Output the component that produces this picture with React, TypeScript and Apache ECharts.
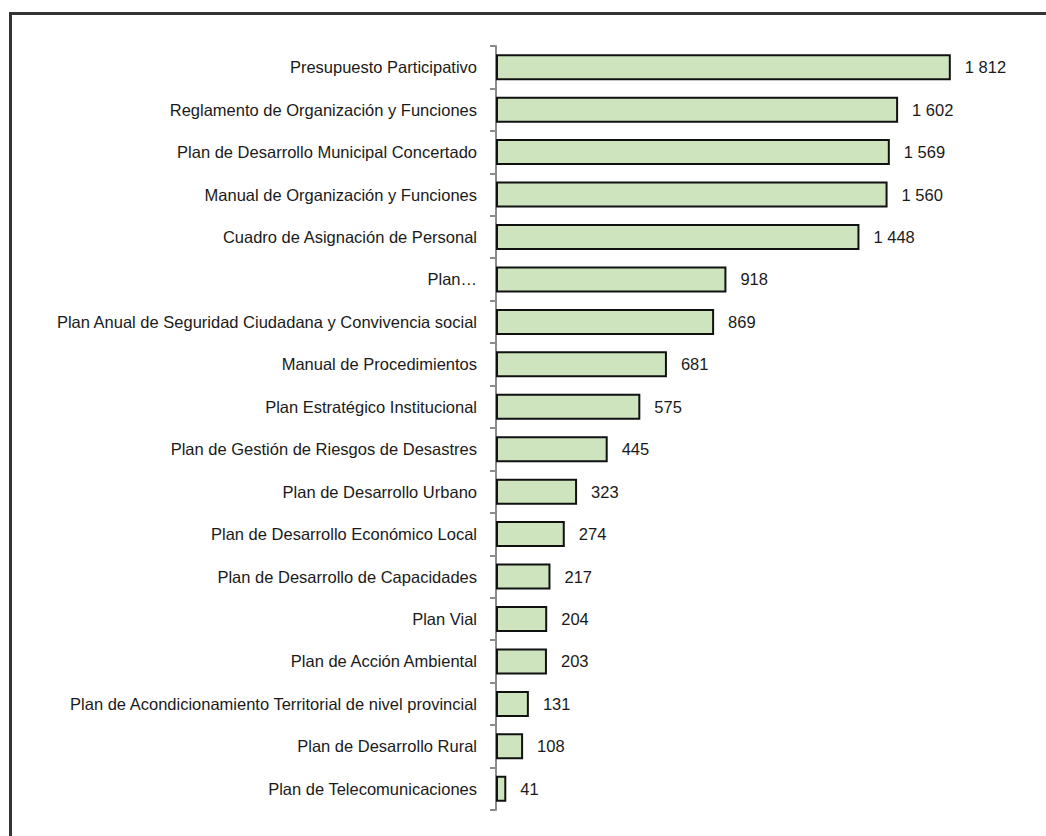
import React, { useEffect, useRef } from "react";
import * as echarts from "echarts";

const categories: string[] = [
  "Presupuesto Participativo",
  "Reglamento de Organización y Funciones",
  "Plan de Desarrollo Municipal Concertado",
  "Manual de Organización y Funciones",
  "Cuadro de Asignación de Personal",
  "Plan…",
  "Plan Anual de Seguridad Ciudadana y Convivencia social",
  "Manual de Procedimientos",
  "Plan Estratégico Institucional",
  "Plan de Gestión de Riesgos de Desastres",
  "Plan de Desarrollo Urbano",
  "Plan de Desarrollo Económico Local",
  "Plan de Desarrollo de Capacidades",
  "Plan Vial",
  "Plan de Acción Ambiental",
  "Plan de Acondicionamiento Territorial de nivel provincial",
  "Plan de Desarrollo Rural",
  "Plan de Telecomunicaciones",
];

const values: number[] = [
  1812, 1602, 1569, 1560, 1448, 918, 869, 681, 575, 445, 323, 274, 217, 204,
  203, 131, 108, 41,
];

const formatValue = (v: number): string =>
  String(v).replace(/\B(?=(\d{3})+(?!\d))/g, " ");

export default function App() {
  const ref = useRef<HTMLDivElement>(null);

  useEffect(() => {
    if (!ref.current) return;
    const chart = echarts.init(ref.current, undefined, { renderer: "svg" });
    const font = "'Liberation Sans', Arial, sans-serif";
    chart.setOption({
      animation: false,
      backgroundColor: "#ffffff",
      graphic: [
        {
          type: "rect",
          shape: { x: 10.5, y: 13.5, width: 1100, height: 900 },
          style: { fill: "none", stroke: "#333333", lineWidth: 3 },
          silent: true,
          z: 100,
        },
      ],
      grid: {
        left: 496,
        right: 48,
        top: 46,
        bottom: 26,
        containLabel: false,
        outerBoundsMode: "none",
      },
      xAxis: {
        type: "value",
        min: 0,
        max: 2000,
        show: false,
        splitLine: { show: false },
      },
      yAxis: {
        type: "category",
        data: categories,
        inverse: true,
        axisLine: { show: true, lineStyle: { color: "#8c8c8c", width: 2 } },
        axisTick: {
          show: true,
          length: 6,
          alignWithLabel: false,
          lineStyle: { color: "#8c8c8c", width: 2 },
        },
        axisLabel: {
          margin: 19,
          color: "#1a1a1a",
          fontFamily: font,
          fontSize: 16.5,
        },
      },
      series: [
        {
          type: "bar",
          data: values,
          barWidth: 26,
          itemStyle: {
            color: "#cde4bf",
            borderColor: "#111111",
            borderWidth: 2,
          },
          label: {
            show: true,
            position: "right",
            distance: 14,
            color: "#1a1a1a",
            fontFamily: font,
            fontSize: 16.5,
            formatter: (p: any) => formatValue(p.value),
          },
        },
      ],
    });
    return () => chart.dispose();
  }, []);

  return (
    <div
      ref={ref}
      style={{ position: "fixed", left: 0, top: 0, width: 1046, height: 836 }}
    />
  );
}
